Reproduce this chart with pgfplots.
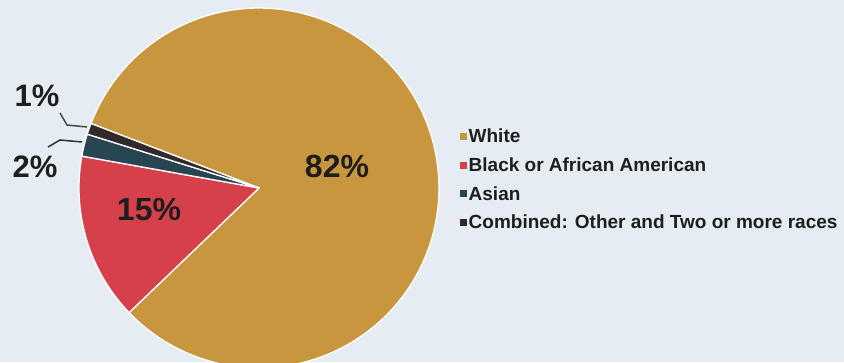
\documentclass[border=0pt]{standalone}
\usepackage{pgfplots}
\pgfplotsset{compat=1.18}
\usepackage{fontspec}
\setmainfont{Liberation Sans}
\definecolor{bg}{HTML}{E5EDF2}
\definecolor{cwhite}{HTML}{C8963F}
\definecolor{cblack}{HTML}{D6404A}
\definecolor{casian}{HTML}{284652}
\definecolor{cother}{HTML}{33292A}
\definecolor{txt}{HTML}{1E1E1E}
% slice: start angle, percent, colour
\newcommand{\slice}[3]{%
  \addplot[fill=#3, draw=white, line width=1.3pt, line join=round,
    domain={#1-#2*3.6}:{#1}, samples=120, variable=\t]
    ({259+180*cos(\t)},{174+180*sin(\t)}) -- (axis cs:259,174) -- cycle;
}
\begin{document}
\begin{tikzpicture}
\begin{axis}[
  x=1pt, y=1pt, xmin=0, xmax=844, ymin=0, ymax=362,
  hide axis, clip=true,
  axis background/.style={fill=bg},
  legend style={at={(460/844,235/362)}, anchor=north west, draw=none, fill=none,
    font=\bfseries\fontsize{19}{20}\selectfont, text=txt, row sep=10.5pt,
    inner sep=0pt, nodes={inner sep=1.5pt}},
  legend cell align=left,
  legend image code/.code={\fill[#1,draw=none] (0pt,-3.5pt) rectangle (7pt,3.5pt);},
]
\slice{159}{82}{cwhite}
\addlegendentry{White}
\slice{-136.2}{15}{cblack}
\addlegendentry{Black or African American}
\slice{-190.2}{2}{casian}
\addlegendentry{Asian}
\slice{-197.4}{1}{cother}
\addlegendentry{Combined: Other and Two or more races}
\node[font=\bfseries\fontsize{32}{32}\selectfont, text=txt] at (axis cs:337,196) {82\%};
\node[font=\bfseries\fontsize{32}{32}\selectfont, text=txt] at (axis cs:149,152) {15\%};
\node[font=\bfseries\fontsize{31}{31}\selectfont, text=txt] at (axis cs:37,266) {1\%};
\node[font=\bfseries\fontsize{31}{31}\selectfont, text=txt] at (axis cs:35,195) {2\%};
\draw[txt!80, line width=1.5pt] (axis cs:60,249) -- (axis cs:67,237) -- (axis cs:87,235);
\draw[casian!80!black, line width=1.5pt] (axis cs:48,215) -- (axis cs:60,222) -- (axis cs:82,220);
\end{axis}
\end{tikzpicture}
\end{document}
